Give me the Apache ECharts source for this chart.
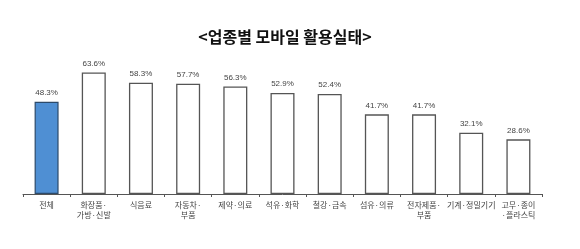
<!DOCTYPE html>
<html><head><meta charset="utf-8">
<script src="https://cdn.jsdelivr.net/npm/echarts@6/dist/echarts.min.js"></script>
<style>html,body{margin:0;padding:0;background:#fff}#c{width:580px;height:249px}</style>
</head><body><div id="c"></div>
<script>
const categories = ['전체','화장품·\n가방·신발','식음료','자동차·\n부품','제약·의료','석유·화학','철강·금속','섬유·의류','전자제품·\n부품','기계·정밀기기','고무·종이\n·플라스틱'];
const values = [48.3,63.6,58.3,57.7,56.3,52.9,52.4,41.7,41.7,32.1,28.6];
const chart = echarts.init(document.getElementById('c'));
chart.setOption({
  animation:false,
  title:{text:'<업종별 모바일 활용실태>',left:280,top:24,textAlign:'center',
    textStyle:{fontFamily:'Noto Sans CJK KR',fontSize:16,fontWeight:'bold',color:'#111'}},
  grid:{left:23,right:38,top:3,bottom:55},
  xAxis:{type:'category',data:categories,
    axisLine:{lineStyle:{color:'#555',width:1}},
    axisTick:{show:true,length:3,inside:false,lineStyle:{color:'#555'}},
    axisLabel:{interval:0,fontSize:8,color:'#444',lineHeight:10,margin:6,fontFamily:'Noto Sans CJK KR'}},
  yAxis:{type:'value',min:0,max:100,show:false,splitLine:{show:false}},
  series:[{type:'bar',data:values.map((v,i)=>({value:v,itemStyle:i===0?{color:'#4f8fd3',borderColor:'#2c4a6a',borderWidth:1.2}:{color:'#fff',borderColor:'#555',borderWidth:1.3}})),
    barWidth:24,
    label:{show:true,position:'top',distance:5,fontSize:8,color:'#444',formatter:p=>p.value.toFixed(1)+'%'}}]
});
</script></body></html>
